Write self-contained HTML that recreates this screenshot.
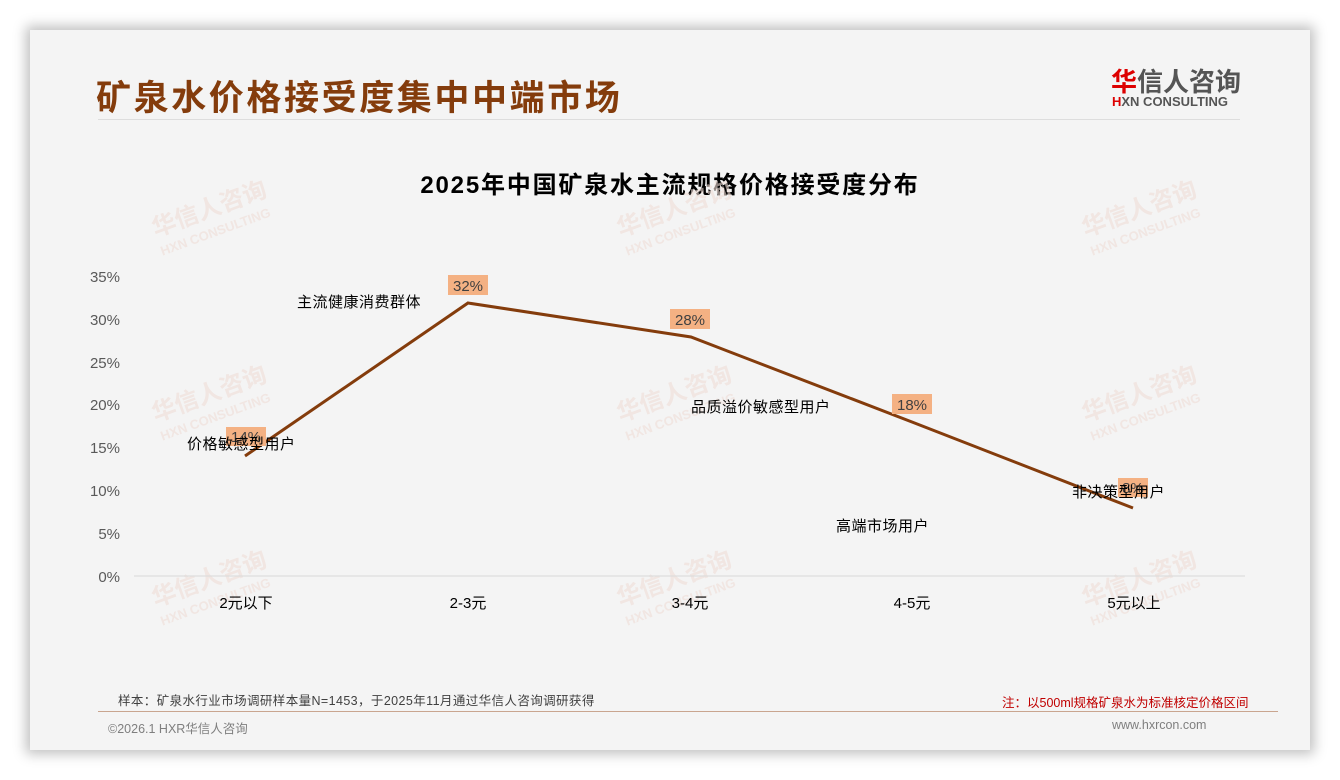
<!DOCTYPE html>
<html><head><meta charset="utf-8"><style>
body{margin:0;width:1340px;height:780px;background:#fff;position:relative;overflow:hidden;font-family:"Liberation Sans","Noto Sans CJK SC",sans-serif}
.card{position:absolute;left:30px;top:30px;width:1280px;height:720px;background:#f4f4f4;box-shadow:0 0 12px 4px rgba(0,0,0,.25)}
.t{position:absolute;white-space:nowrap}
</style></head><body>
<div class="card"></div>
<div class="t" style="left:96px;top:70px;font-size:35px;font-weight:bold;color:#843c0c;letter-spacing:2.6px">矿泉水价格接受度集中中端市场</div>
<div style="position:absolute;left:98px;top:119px;width:1142px;height:1px;background:#ddd"></div>
<div class="t" style="left:1111px;top:62px;font-size:26px;font-weight:bold;color:#555"><span style="color:#d00">华</span>信人咨询</div>
<div class="t" style="left:1112px;top:94px;font-size:13px;font-weight:bold;color:#555"><span style="color:#d00">H</span>XN CONSULTING</div>
<div class="t" style="left:0;width:1340px;text-align:center;top:165px;font-size:24px;font-weight:bold;color:#000;letter-spacing:1.8px">2025年中国矿泉水主流规格价格接受度分布</div>
<svg style="position:absolute;left:0;top:0" width="1340" height="780">
<g font-family="Liberation Sans,Noto Sans CJK SC,sans-serif" fill="#eedcd6" font-weight="bold" opacity=".6">
<g transform="rotate(-20 215 210)"><text x="150" y="215" font-size="24">华信人咨询</text><text x="150" y="235" font-size="13">HXN CONSULTING</text></g>
<g transform="rotate(-20 680 210)"><text x="615" y="215" font-size="24">华信人咨询</text><text x="615" y="235" font-size="13">HXN CONSULTING</text></g>
<g transform="rotate(-20 1145 210)"><text x="1080" y="215" font-size="24">华信人咨询</text><text x="1080" y="235" font-size="13">HXN CONSULTING</text></g>
<g transform="rotate(-20 215 395)"><text x="150" y="400" font-size="24">华信人咨询</text><text x="150" y="420" font-size="13">HXN CONSULTING</text></g>
<g transform="rotate(-20 680 395)"><text x="615" y="400" font-size="24">华信人咨询</text><text x="615" y="420" font-size="13">HXN CONSULTING</text></g>
<g transform="rotate(-20 1145 395)"><text x="1080" y="400" font-size="24">华信人咨询</text><text x="1080" y="420" font-size="13">HXN CONSULTING</text></g>
<g transform="rotate(-20 215 580)"><text x="150" y="585" font-size="24">华信人咨询</text><text x="150" y="605" font-size="13">HXN CONSULTING</text></g>
<g transform="rotate(-20 680 580)"><text x="615" y="585" font-size="24">华信人咨询</text><text x="615" y="605" font-size="13">HXN CONSULTING</text></g>
<g transform="rotate(-20 1145 580)"><text x="1080" y="585" font-size="24">华信人咨询</text><text x="1080" y="605" font-size="13">HXN CONSULTING</text></g>
</g>
<line x1="134" y1="576" x2="1245" y2="576" stroke="#d9d9d9"/>
<g font-family="Liberation Sans,sans-serif" font-size="15" fill="#595959" text-anchor="end">
<text x="120" y="582">0%</text><text x="120" y="539">5%</text><text x="120" y="496">10%</text><text x="120" y="453">15%</text><text x="120" y="410">20%</text><text x="120" y="368">25%</text><text x="120" y="325">30%</text><text x="120" y="282">35%</text>
</g>
<g font-family="Liberation Sans,Noto Sans CJK SC,sans-serif" font-size="15" fill="#000" text-anchor="middle">
<text x="246" y="608">2元以下</text><text x="468" y="608">2-3元</text><text x="690" y="608">3-4元</text><text x="912" y="608">4-5元</text><text x="1134" y="608">5元以上</text>
</g>
<polyline points="245,456 468,303 691,337 912,422 1133,508" fill="none" stroke="#843c0c" stroke-width="3"/>
<g fill="#f4b183"><rect x="226" y="427" width="40" height="19"/><rect x="448" y="275" width="40" height="20"/><rect x="670" y="309" width="40" height="20"/><rect x="892" y="394" width="40" height="20"/><rect x="1118" y="478" width="30" height="19"/></g>
<g font-family="Liberation Sans,sans-serif" font-size="15" fill="#404040" text-anchor="middle">
<text x="246" y="442">14%</text><text x="468" y="291">32%</text><text x="690" y="325">28%</text><text x="912" y="410">18%</text><text x="1133" y="493">8%</text>
</g>
<g font-family="Liberation Sans,Noto Sans CJK SC,sans-serif" font-size="15" fill="#000" letter-spacing="0.5">
<text x="187" y="449">价格敏感型用户</text><text x="297" y="307">主流健康消费群体</text><text x="691" y="412">品质溢价敏感型用户</text><text x="836" y="531">高端市场用户</text><text x="1072" y="497">非决策型用户</text>
</g>
</svg>
<div class="t" style="left:118px;top:690px;font-size:12.5px;color:#404040;letter-spacing:.4px">样本：矿泉水行业市场调研样本量N=1453，于2025年11月通过华信人咨询调研获得</div>
<div class="t" style="left:1002px;top:692px;font-size:12.5px;color:#c00000">注：以500ml规格矿泉水为标准核定价格区间</div>
<div style="position:absolute;left:98px;top:711px;width:1180px;height:1px;background:#c9a58f"></div>
<div class="t" style="left:108px;top:718px;font-size:12.5px;color:#7f7f7f">©2026.1 HXR华信人咨询</div>
<div class="t" style="left:1112px;top:718px;font-size:12.5px;color:#7f7f7f">www.hxrcon.com</div>
</body></html>
